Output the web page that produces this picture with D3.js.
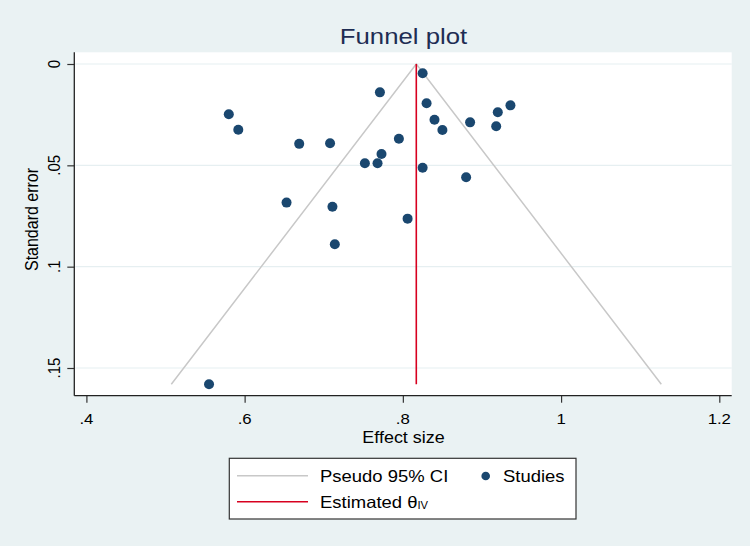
<!DOCTYPE html>
<html>
<head>
<meta charset="utf-8">
<script src="https://cdn.jsdelivr.net/npm/d3@7"></script>
<style>
  body { margin: 0; background: #eaf2f3; }
  svg { display: block; font-family: "Liberation Sans", Arial, sans-serif; }
</style>
</head>
<body>
<div id="chart"></div>
<script>
// study estimates
var effectSize = [0.825, 0.771, 0.830, 0.580, 0.592, 0.840, 0.850, 0.885, 0.920, 0.936, 0.918, 0.669,
	0.708, 0.795, 0.773, 0.752, 0.768, 0.825, 0.880, 0.653, 0.711, 0.806, 0.714, 0.555];
var stdError = [0.0046, 0.0140, 0.0194, 0.0248, 0.0324, 0.0275, 0.0326, 0.0288, 0.0238, 0.0204, 0.0307, 0.0394,
	0.0391, 0.0369, 0.0444, 0.0490, 0.0490, 0.0512, 0.0559, 0.0684, 0.0704, 0.0763, 0.0889, 0.1580];
var thetaIV = 0.817;   // estimated effect (red line)
var seMax = 0.158;     // funnel drawn down to here
var xTicks = [0.4, 0.6, 0.8, 1, 1.2];
var xTickLabels = [".4", ".6", ".8", "1", "1.2"];
var yTicks = [0, 0.05, 0.1, 0.15];
var yTickLabels = ["0", ".05", ".1", ".15"];

var width = 750, height = 546;
var stretch = 1.12; // the picture's text is a bit wide

var svg = d3.select("#chart").append("svg")
	.attr("width", width)
	.attr("height", height);

svg.append("rect").attr("width", width).attr("height", height).attr("fill", "#eaf2f3");

var x = d3.scaleLinear().domain([0.4, 1.2]).range([86.4, 719.3]);
var y = d3.scaleLinear().domain([0, 0.15]).range([64, 368]);

var plot = { left: 74.3, right: 731.7, top: 52.3, bottom: 395.7 };

svg.append("rect")
	.attr("x", plot.left).attr("y", plot.top)
	.attr("width", plot.right - plot.left).attr("height", plot.bottom - plot.top)
	.attr("fill", "#ffffff");

function label(text, px, py, size, anchor, rot, color) {
	var tr = "translate(" + px + "," + py + ")";
	if (rot) tr += " rotate(" + rot + ") scale(1," + stretch + ")";
	else tr += " scale(" + stretch + ",1)";
	return svg.append("text")
		.attr("transform", tr)
		.attr("text-anchor", anchor)
		.attr("font-size", size)
		.attr("fill", color || "#000")
		.text(text);
}

// grid lines
svg.selectAll(".grid")
	.data(yTicks)
	.enter()
	.append("line")
	.attr("class", "grid")
	.attr("x1", plot.left + 1).attr("x2", plot.right)
	.attr("y1", function(d) { return y(d); })
	.attr("y2", function(d) { return y(d); })
	.attr("stroke", "#e6eff1")
	.attr("stroke-width", 1.2);

// pseudo 95% CI funnel
var funnel = [[thetaIV - 1.96 * seMax, seMax], [thetaIV, 0], [thetaIV + 1.96 * seMax, seMax]];
svg.append("path")
	.attr("d", d3.line().x(function(d) { return x(d[0]); }).y(function(d) { return y(d[1]); })(funnel))
	.attr("fill", "none")
	.attr("stroke", "#c8c8c8")
	.attr("stroke-width", 1.5);

// estimated theta
svg.append("line")
	.attr("x1", x(thetaIV)).attr("x2", x(thetaIV))
	.attr("y1", y(0)).attr("y2", y(seMax))
	.attr("stroke", "#d7001f")
	.attr("stroke-width", 1.6);

// studies
svg.selectAll(".study")
	.data(effectSize)
	.enter()
	.append("circle")
	.attr("class", "study")
	.attr("cx", function(d) { return x(d); })
	.attr("cy", function(d, i) { return y(stdError[i]); })
	.attr("r", 5)
	.attr("fill", "#1a476f");

// axes
var xAxis = d3.axisBottom(x).tickValues(xTicks).tickSize(7).tickFormat(function(d, i) { return xTickLabels[i]; });
var gx = svg.append("g").attr("transform", "translate(0," + plot.bottom + ")").call(xAxis);
gx.select(".domain").remove();
gx.selectAll("text").remove();
gx.selectAll("line").attr("stroke", "#333").attr("stroke-width", 1.2);
svg.append("line")
	.attr("x1", plot.left).attr("x2", plot.right)
	.attr("y1", plot.bottom).attr("y2", plot.bottom)
	.attr("stroke", "#222").attr("stroke-width", 1.3);

var yAxis = d3.axisLeft(y).tickValues(yTicks).tickSize(7);
var gy = svg.append("g").attr("transform", "translate(" + plot.left + ",0)").call(yAxis);
gy.select(".domain").remove();
gy.selectAll("text").remove();
gy.selectAll("line").attr("stroke", "#333").attr("stroke-width", 1.2);
svg.append("line")
	.attr("x1", plot.left).attr("x2", plot.left)
	.attr("y1", plot.top).attr("y2", plot.bottom)
	.attr("stroke", "#222").attr("stroke-width", 1.3);

xTicks.forEach(function(t, i) {
	label(xTickLabels[i], x(t), 424, 15, "middle");
});
yTicks.forEach(function(t, i) {
	label(yTickLabels[i], 59.5, y(t), 15, "middle", -90);
});

label("Effect size", 403.5, 443, 16, "middle");
label("Standard error", 38, 219.5, 16, "middle", -90);
label("Funnel plot", 403.5, 44, 23, "middle", 0, "#1e2d53");

// legend
svg.append("rect")
	.attr("x", 229.3).attr("y", 458.3)
	.attr("width", 346.7).attr("height", 60.7)
	.attr("fill", "#fff")
	.attr("stroke", "#333")
	.attr("stroke-width", 1.2);
svg.append("line").attr("x1", 237).attr("x2", 308).attr("y1", 475.7).attr("y2", 475.7)
	.attr("stroke", "#c8c8c8").attr("stroke-width", 1.5);
svg.append("line").attr("x1", 237).attr("x2", 308).attr("y1", 501.7).attr("y2", 501.7)
	.attr("stroke", "#d7001f").attr("stroke-width", 1.6);
svg.append("circle").attr("cx", 485.7).attr("cy", 476).attr("r", 4.3).attr("fill", "#1a476f");
label("Pseudo 95% CI", 320, 482, 16.5, "start");
label("Studies", 503, 482, 16.5, "start");
var est = label("Estimated θ", 320, 508, 16.5, "start");
est.append("tspan").attr("font-size", 10).attr("dy", 1).text("IV");
</script>
</body>
</html>
